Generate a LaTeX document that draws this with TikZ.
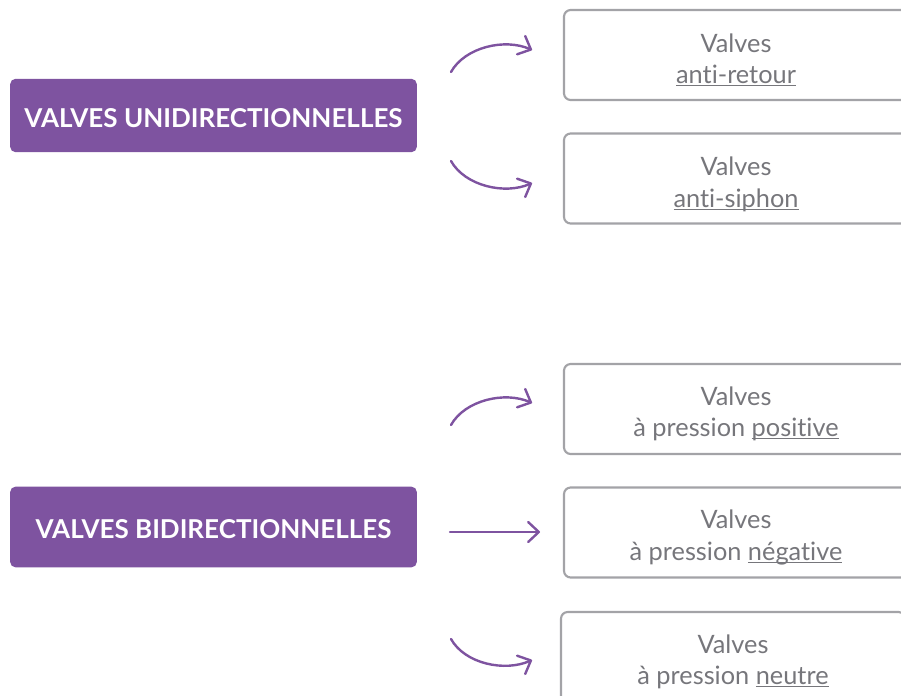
\documentclass[tikz,border=0pt]{standalone}
\usepackage{fontspec}
\setmainfont{Lato}[RawFeature=-liga]
\usetikzlibrary{arrows.meta}
\definecolor{valvepurple}{HTML}{7E53A0}
\definecolor{boxgray}{HTML}{A3A3A7}
\definecolor{textgray}{HTML}{76767B}
\newcommand{\undl}[1]{\underline{\smash{#1}}}
\newcommand{\valves}{\rule{0pt}{21.5pt}Valves}

\begin{document}
\begin{tikzpicture}[x=0.75pt, y=-0.75pt,
        group/.style={fill=valvepurple, rounded corners=4pt, text=white, inner sep=0pt, text height=18pt,
            font=\bfseries\fontsize{19.5}{22}\selectfont, minimum width=305pt},
        kind/.style={draw=boxgray, line width=1.6pt, rounded corners=5pt, text=textgray, inner sep=0pt,
            align=center, font=\fontsize{19}{23.5}\selectfont, minimum width=258pt, minimum height=67.5pt},
        link/.style={valvepurple, line width=1.8pt, line cap=round, -{Straight Barb[length=8pt,width=15pt,round]}}]
                \useasboundingbox (0,0) rectangle (901,696);

                % Groups:
                \node[group, minimum height=55pt] (uni) at (213.5,115.5) {VALVES UNIDIRECTIONNELLES};
                \node[group, minimum height=60.5pt] (bi) at (213.5,527) {VALVES BIDIRECTIONNELLES};

                % Kinds:
                \node[kind] (retour) at (736,55) {\valves\\\undl{anti-retour}};
                \node[kind] (siphon) at (736,178.5) {\valves\\\undl{anti-siphon}};
                \node[kind] (positive) at (736,409) {\valves\\à pression \undl{positive}};
                \node[kind] (negative) at (736,532.5) {\valves\\à pression \undl{négative}};
                \node[kind] (neutre) at (733,657) {\valves\\à pression \undl{neutre}};

                % Arrows:
                \coordinate (a1) at (451,72);  \coordinate (b1) at (532,50);
                \coordinate (a2) at (451,161); \coordinate (b2) at (532,183);
                \coordinate (a3) at (451,425); \coordinate (b3) at (532,403);
                \coordinate (a4) at (450,532); \coordinate (b4) at (540,532);
                \coordinate (a5) at (451,639); \coordinate (b5) at (532,660);
                \draw[link] (a1) .. controls (465,47) and (505,38) .. (b1);
                \draw[link] (a2) .. controls (465,186) and (505,195) .. (b2);
                \draw[link] (a3) .. controls (465,400) and (505,391) .. (b3);
                \draw[link] (a4) -- (b4);
                \draw[link] (a5) .. controls (465,664) and (505,672) .. (b5);
            \end{tikzpicture}
\end{document}
